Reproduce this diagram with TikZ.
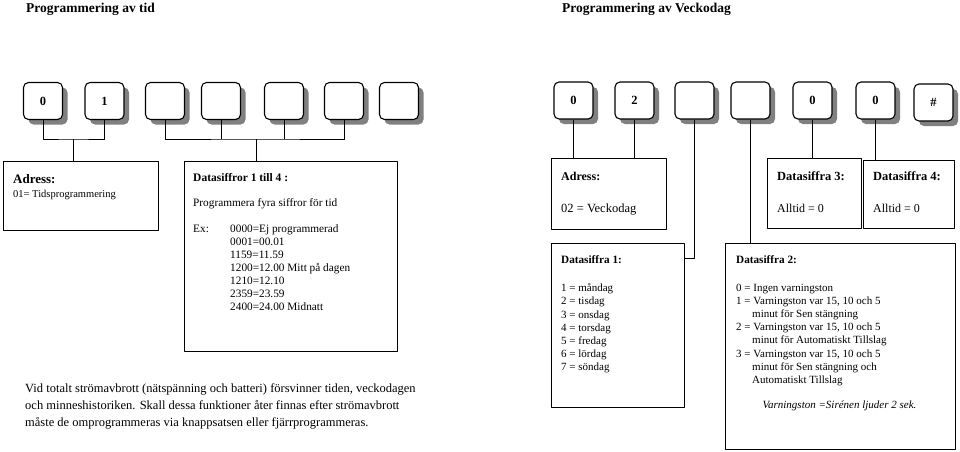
\documentclass[tikz,border=0pt]{standalone}
\usepackage{fontspec}
\setmainfont{Liberation Serif}
\usetikzlibrary{shadows}

\begin{document}
\begin{tikzpicture}[x=1pt,y=-1pt,line join=round,
	key/.style={draw,line width=1.1pt,rounded corners=5pt,fill=white,minimum width=39pt,minimum height=37pt,inner sep=0pt,
		font=\fontsize{12.5}{14}\selectfont\bfseries,drop shadow={shadow xshift=5pt,shadow yshift=-5pt,fill=black!50,opacity=1}},
	panel/.style={draw,line width=1.4pt,anchor=north west,inner sep=0pt},
	txt/.style={anchor=base west,inner sep=0pt,font=\fontsize{11}{13.2}\selectfont},
	head/.style={anchor=base west,inner sep=0pt,font=\fontsize{11.5}{13}\selectfont\bfseries},
	lines/.style={anchor=north west,inner sep=0pt,align=left}]
	\useasboundingbox (0,0) rectangle (960,451);
	% rubriker
	\node[head,font=\fontsize{13.5}{15}\selectfont\bfseries] (titel1) at (26,12.5) {Programmering av tid};
	\node[head,font=\fontsize{13.5}{15}\selectfont\bfseries] (titel2) at (562,12.5) {Programmering av Veckodag};
	% tangenter, tid
	\node[key] (k1) at (43,101) {0};
	\node[key] (k2) at (104.5,101) {1};
	\node[key] (k3) at (165,101) {};
	\node[key] (k4) at (221,101) {};
	\node[key] (k5) at (284,101) {};
	\node[key] (k6) at (344,101) {};
	\node[key] (k7) at (399,101) {};
	% rutor, tid
	\node[panel,minimum width=155pt,minimum height=69pt] (adr1) at (3,161) {};
	\node[panel,minimum width=213pt,minimum height=190pt] (dat14) at (184,161) {};
	\coordinate (j1) at (73,139);
	\coordinate (j2) at (256,139);
	\draw (k1.south) |- (j1) -| (k2.south);
	\draw (j1) -- (j1 |- adr1.north);
	\draw (k3.south) |- (j2) -| (k6.south);
	\draw (k4.south) -- (k4.south |- j2);
	\draw (k5.south) -- (k5.south |- j2);
	\draw (j2) -- (j2 |- dat14.north);
	\node[head,font=\fontsize{13}{15}\selectfont\bfseries] (adr1h) at (13,183) {Adress:};
	\node[txt,font=\fontsize{10.5}{12}\selectfont] (adr1t) at (13,197.5) {01= Tidsprogrammering};
	\node[head] (dat14h) at (193,181) {Datasiffror 1 till 4 :};
	\node[txt,font=\fontsize{11.3}{13.1}\selectfont] (dat14t) at (193,206) {Programmera fyra siffror för tid};
	\node[txt,font=\fontsize{11.3}{13.1}\selectfont] (ex) at (193,232) {Ex:};
	\node[lines,font=\fontsize{11.3}{13.1}\selectfont] (exlist) at (230,224.3) {0000=Ej programmerad\\0001=00.01\\1159=11.59\\1200=12.00 Mitt på dagen\\1210=12.10\\2359=23.59\\2400=24.00 Midnatt};
	\node[lines,font=\fontsize{12.5}{16.8}\selectfont] (info) at (25,383.5) {Vid totalt strömavbrott (nätspänning och batteri) försvinner tiden, veckodagen\\och minneshistoriken. Skall dessa funktioner åter finnas efter strömavbrott\\måste de omprogrammeras via knappsatsen eller fjärrprogrammeras.};
	% tangenter, veckodag
	\node[key] (r1) at (573.5,100.5) {0};
	\node[key] (r2) at (634.5,100.5) {2};
	\node[key] (r3) at (694.5,100.5) {};
	\node[key] (r4) at (750.5,100.5) {};
	\node[key] (r5) at (812.5,100.5) {0};
	\node[key] (r6) at (875.5,100.5) {0};
	\node[key] (r7) at (933.5,102.5) {\#};
	% rutor, veckodag
	\node[panel,minimum width=115pt,minimum height=71pt] (adr2) at (551,158) {};
	\node[panel,minimum width=94pt,minimum height=70pt] (ds3) at (767,158) {};
	\node[panel,minimum width=91pt,minimum height=68pt] (ds4) at (863,160) {};
	\node[panel,minimum width=133pt,minimum height=164pt] (ds1) at (551,243) {};
	\node[panel,minimum width=230pt,minimum height=206pt] (ds2) at (725,243) {};
	\coordinate (j3) at (697,258);
	\draw (r1.south) -- (r1.south |- adr2.north);
	\draw (r2.south) -- (r2.south |- adr2.north);
	\draw (r3.south) |- (ds1.east |- j3);
	\draw (r4.south) -- (r4.south |- ds2.north);
	\draw (r5.south) -- (r5.south |- ds3.north);
	\draw (r6.south) -- (r6.south |- ds4.north);
	\node[head,font=\fontsize{12}{14}\selectfont\bfseries] (adr2h) at (561,180) {Adress:};
	\node[txt,font=\fontsize{12.5}{14}\selectfont] (adr2t) at (561,212) {02 = Veckodag};
	\node[head,font=\fontsize{12.5}{14}\selectfont\bfseries] (ds3h) at (777,180) {Datasiffra 3:};
	\node[txt,font=\fontsize{12}{14}\selectfont] (ds3t) at (777,212) {Alltid = 0};
	\node[head,font=\fontsize{12.5}{14}\selectfont\bfseries] (ds4h) at (873,180) {Datasiffra 4:};
	\node[txt,font=\fontsize{12}{14}\selectfont] (ds4t) at (873,212) {Alltid = 0};
	\node[head,font=\fontsize{11.2}{13}\selectfont\bfseries] (ds1h) at (561,263) {Datasiffra 1:};
	\node[lines,font=\fontsize{11}{13.2}\selectfont] (ds1t) at (561,283.5) {1 = måndag\\2 = tisdag\\3 = onsdag\\4 = torsdag\\5 = fredag\\6 = lördag\\7 = söndag};
	\node[head,font=\fontsize{11.2}{13}\selectfont\bfseries] (ds2h) at (736,263) {Datasiffra 2:};
	\node[lines,font=\fontsize{11}{13.2}\selectfont] (ds2t) at (736,283.6) {0 = Ingen varningston\\1 = Varningston var 15, 10 och 5\\\hspace*{16pt}minut för Sen stängning\\2 = Varningston var 15, 10 och 5\\\hspace*{16pt}minut för Automatiskt Tillslag\\3 = Varningston var 15, 10 och 5\\\hspace*{16pt}minut för Sen stängning och\\\hspace*{16pt}Automatiskt Tillslag};
	\node[anchor=base,inner sep=0pt,font=\fontsize{11}{13}\selectfont\itshape] (sirenen) at (839.5,408) {Varningston =Sirénen ljuder 2 sek.};
\end{tikzpicture}
\end{document}
